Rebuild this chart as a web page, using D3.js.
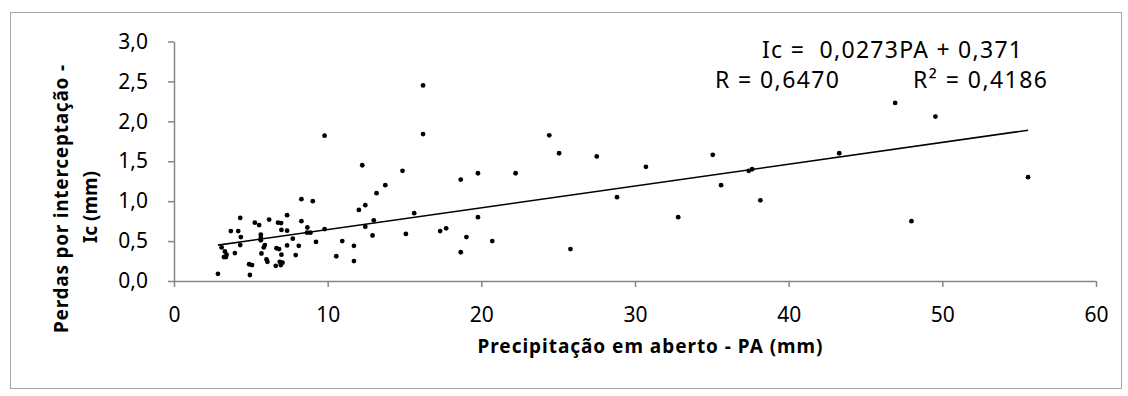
<!DOCTYPE html>
<html>
<head>
<meta charset="utf-8">
<script src="https://cdn.jsdelivr.net/npm/d3@7"></script>
<style>
  body { margin: 0; background: #fff; }
  text { font-family: "Noto Sans", sans-serif; fill: #000; }
</style>
</head>
<body>
<div id="chart"></div>
<script>
// precipitacao em aberto PA (mm)
const pa = [2.86, 3.10, 3.31, 3.42, 3.25, 3.38, 3.70, 3.96, 4.18, 4.31, 4.35, 4.31, 4.89, 5.08, 4.94,
  5.26, 5.54, 5.65, 5.65, 5.65, 5.69, 5.91, 5.84, 6.02, 6.08, 6.19, 6.62, 6.67, 6.84, 6.77, 6.97, 6.99,
  6.99, 6.88, 7.06, 6.95, 7.36, 7.36, 7.36, 7.73, 7.92, 8.12, 8.29, 8.29, 8.68, 8.66, 8.88, 9.03, 9.24,
  9.80, 9.80, 10.56, 10.95, 11.71, 11.71, 12.03, 12.25, 12.45, 12.45, 12.92, 13.00, 13.18, 13.75, 14.87,
  15.09, 15.63, 16.21, 16.21, 17.32, 17.71, 18.66, 18.66, 19.03, 19.78, 19.78, 20.71, 22.23, 24.42,
  25.06, 25.80, 27.51, 28.83, 30.71, 32.81, 35.06, 35.60, 37.40, 37.62, 38.16, 43.29, 46.93, 47.99,
  49.55, 55.58];
// perdas por interceptacao Ic (mm)
const ic = [0.09, 0.42, 0.37, 0.33, 0.30, 0.30, 0.625, 0.35, 0.625, 0.79, 0.55, 0.45, 0.21, 0.20, 0.075,
  0.73, 0.70, 0.58, 0.54, 0.51, 0.345, 0.45, 0.42, 0.27, 0.24, 0.77, 0.19, 0.41, 0.40, 0.73, 0.725, 0.64,
  0.33, 0.24, 0.23, 0.20, 0.825, 0.63, 0.445, 0.53, 0.325, 0.44, 1.025, 0.75, 0.67, 0.605, 0.605, 1.00, 0.49,
  0.65, 1.82, 0.31, 0.50, 0.44, 0.25, 0.89, 1.45, 0.95, 0.68, 0.57, 0.76, 1.10, 1.20, 1.38,
  0.59, 0.85, 2.45, 1.84, 0.625, 0.66, 1.27, 0.36, 0.55, 1.35, 0.80, 0.50, 1.35, 1.825,
  1.60, 0.40, 1.56, 1.05, 1.43, 0.80, 1.58, 1.20, 1.38, 1.40, 1.01, 1.60, 2.23, 0.75,
  2.06, 1.30];
const xTicks = [0, 10, 20, 30, 40, 50, 60];
const yTicks = [0, 0.5, 1.0, 1.5, 2.0, 2.5, 3.0];
const slope = 0.0273, intercept = 0.371;
const eqLines = ["Ic =  0,0273PA + 0,371", "R = 0,6470", "R² = 0,4186"];

const width = 1128, height = 396;
const svg = d3.select("#chart").append("svg")
  .attr("width", width)
  .attr("height", height);

// chart border
svg.append("rect")
  .attr("x", 10.5).attr("y", 12.5)
  .attr("width", 1111).attr("height", 376)
  .attr("fill", "none")
  .attr("stroke", "#a6a6a6")
  .attr("stroke-width", 1);

const x = d3.scaleLinear().domain([0, 60]).range([174, 1096]);
const y = d3.scaleLinear().domain([0, 3]).range([281, 41.5]);

const fmt = d => d.toFixed(1).replace(".", ",");

const xAxis = svg.append("g")
  .attr("transform", "translate(0," + y(0) + ")")
  .call(d3.axisBottom(x).tickValues(xTicks).tickSize(6).tickSizeOuter(0).tickPadding(20));
const yAxis = svg.append("g")
  .attr("transform", "translate(" + x(0) + ",0)")
  .call(d3.axisLeft(y).tickValues(yTicks).tickFormat(fmt).tickSize(6).tickSizeOuter(0).tickPadding(20));

[xAxis, yAxis].forEach(a => {
  a.select(".domain").attr("stroke", "#868686").attr("stroke-width", 1.5);
  a.selectAll(".tick line").attr("stroke", "#868686").attr("stroke-width", 1.5);
  a.selectAll(".tick text")
    .style("font-family", "'Noto Sans', sans-serif")
    .style("font-size", "21px")
    .attr("fill", "#000");
});

// regression line
const xMin = d3.min(pa), xMax = d3.max(pa);
svg.append("line")
  .attr("x1", x(xMin)).attr("y1", y(slope * xMin + intercept))
  .attr("x2", x(xMax)).attr("y2", y(slope * xMax + intercept))
  .attr("stroke", "#000")
  .attr("stroke-width", 1.6);

// points
svg.append("g").selectAll("circle")
  .data(pa.map((d, i) => [d, ic[i]]))
  .enter()
  .append("circle")
  .attr("cx", d => x(d[0]))
  .attr("cy", d => y(d[1]))
  .attr("r", 2.4)
  .attr("fill", "#000");

// equation text
svg.append("text").attr("x", 762).attr("y", 58).attr("textLength", 260)
  .style("font-size", "23px").style("white-space", "pre").text(eqLines[0]);
svg.append("text").attr("x", 715).attr("y", 88).attr("textLength", 124)
  .style("font-size", "23px").text(eqLines[1]);
svg.append("text").attr("x", 913).attr("y", 88).attr("textLength", 134)
  .style("font-size", "23px").text(eqLines[2]);

// axis titles
svg.append("text")
  .attr("x", 650).attr("y", 353)
  .attr("text-anchor", "middle")
  .attr("textLength", 345)
  .style("font-size", "19px").style("font-weight", "bold")
  .text("Precipitação em aberto - PA (mm)");

svg.append("text")
  .attr("transform", "translate(68,199)rotate(-90)")
  .attr("text-anchor", "middle")
  .attr("textLength", 268)
  .style("font-size", "19px").style("font-weight", "bold")
  .text("Perdas por interceptação -");
svg.append("text")
  .attr("transform", "translate(97,207)rotate(-90)")
  .attr("text-anchor", "middle")
  .style("font-size", "19px").style("font-weight", "bold")
  .text("Ic (mm)");
</script>
</body>
</html>
